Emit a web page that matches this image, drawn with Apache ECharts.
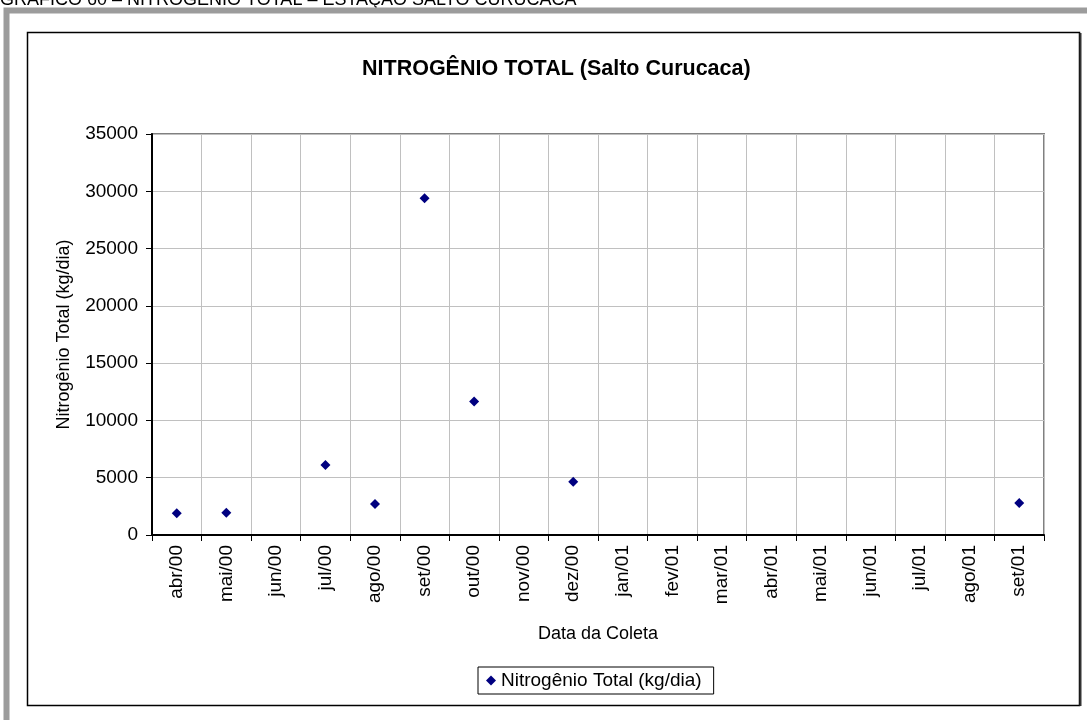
<!DOCTYPE html>
<html>
<head>
<meta charset="utf-8">
<script src="https://cdn.jsdelivr.net/npm/echarts@6/dist/echarts.min.js"></script>
<style>
html,body{margin:0;padding:0;background:#fff;}
#c{width:1087px;height:720px;}
</style>
</head>
<body>
<div id="c"></div>
<script>
const categories = ['abr/00','mai/00','jun/00','jul/00','ago/00','set/00','out/00','nov/00','dez/00','jan/01','fev/01','mar/01','abr/01','mai/01','jun/01','jul/01','ago/01','set/01'];
const nitrogenio = [1900, 1950, null, 6100, 2700, 29400, 11650, null, 4650, null, null, null, null, null, null, null, null, 2800];
const yTicks = { min: 0, max: 35000, interval: 5000 };
const caption = 'GRÁFICO 60 – NITROGÊNIO TOTAL – ESTAÇÃO SALTO CURUCACA';
const chartTitle = 'NITROGÊNIO TOTAL (Salto Curucaca)';
const seriesName = 'Nitrogênio Total (kg/dia)';

const font = '"Liberation Sans", Arial, sans-serif';
const chart = echarts.init(document.getElementById('c'), null, {renderer: 'canvas'});
chart.setOption({
  backgroundColor: '#fff',
  animation: false,
  textStyle: { fontFamily: font, color: '#000' },
  graphic: [
    { type: 'text', x: 0, y: -9, z: 0, style: { text: caption, font: '18px ' + font, fill: '#000', verticalAlign: 'top' } },
    { type: 'rect', z: 10, shape: { x: 6.5, y: 10.5, width: 1090, height: 720 }, style: { fill: 'none', stroke: '#9c9c9c', lineWidth: 6 }, silent: true },
    { type: 'rect', z: 10, shape: { x: 27.5, y: 32.5, width: 1052, height: 673 }, style: { fill: 'none', stroke: '#000', lineWidth: 1.5 }, silent: true },
    { type: 'line', z: 10, shape: { x1: 1080.5, y1: 33, x2: 1080.5, y2: 706 }, style: { stroke: '#333', lineWidth: 2 }, silent: true }
  ],
  title: {
    text: chartTitle,
    left: 357, top: 53,
    textStyle: { fontFamily: font, fontSize: 21.5, fontWeight: 'bold', color: '#000' }
  },
  legend: {
    left: 478, top: 667,
    data: [{ name: seriesName, icon: 'diamond' }],
    itemWidth: 10, itemHeight: 10, itemGap: 4,
    padding: [4, 12, 4, 8],
    borderColor: '#000', borderWidth: 1, borderRadius: 0,
    textStyle: { fontFamily: font, fontSize: 19, color: '#000' }
  },
  grid: {
    left: 152, right: 43, top: 134, bottom: 185,
    show: true, borderColor: '#808080', borderWidth: 2, backgroundColor: 'transparent'
  },
  xAxis: {
    type: 'category',
    data: categories,
    boundaryGap: true,
    name: 'Data da Coleta',
    nameLocation: 'middle',
    nameGap: 90,
    nameTextStyle: { fontFamily: font, fontSize: 18, color: '#000' },
    axisLine: { lineStyle: { color: '#000', width: 2 } },
    axisTick: { show: true, length: 6, lineStyle: { color: '#000', width: 1 } },
    axisLabel: { rotate: 90, margin: 10, fontFamily: font, fontSize: 19, color: '#000', interval: 0 },
    splitLine: { show: true, interval: 0, lineStyle: { color: '#c0c0c0', width: 1 } }
  },
  yAxis: {
    type: 'value',
    min: yTicks.min, max: yTicks.max, interval: yTicks.interval,
    name: 'Nitrogênio Total (kg/dia)',
    nameLocation: 'middle',
    nameGap: 79,
    nameTextStyle: { fontFamily: font, fontSize: 18, color: '#000' },
    axisLine: { show: true, lineStyle: { color: '#000', width: 2 } },
    axisTick: { show: true, length: 6, lineStyle: { color: '#000', width: 1 } },
    axisLabel: { margin: 14, fontFamily: font, fontSize: 19, color: '#000', formatter: v => String(v) },
    splitLine: { show: true, lineStyle: { color: '#c0c0c0', width: 1 } }
  },
  series: [{
    name: seriesName,
    type: 'scatter',
    symbol: 'diamond',
    symbolSize: 10,
    itemStyle: { color: '#000080', opacity: 1 },
    data: nitrogenio
  }]
});
</script>
</body>
</html>
